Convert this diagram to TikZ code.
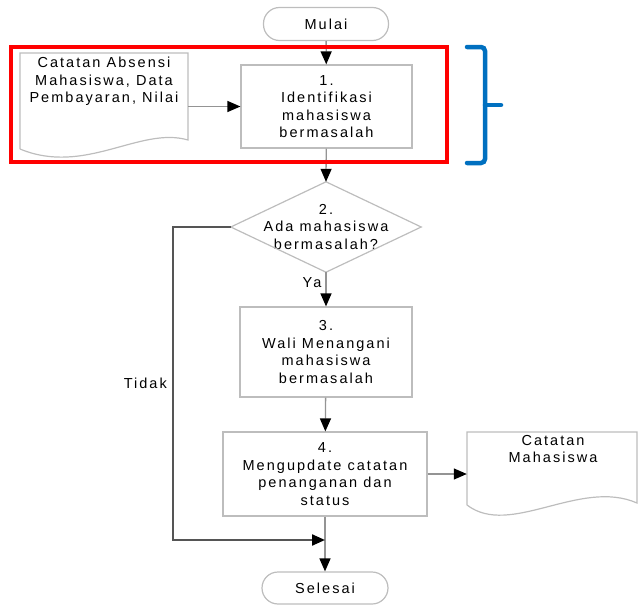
\documentclass[tikz,border=0pt]{standalone}
\usepackage{fontspec}
\setmainfont{Liberation Sans}[LetterSpace=14]
\usetikzlibrary{arrows.meta,calc}
\definecolor{edgegray}{HTML}{BDBDBD}
\definecolor{linegray}{HTML}{949494}
\definecolor{loopgray}{HTML}{555555}
\definecolor{markred}{HTML}{FF0000}
\definecolor{markblue}{HTML}{0070C0}
\begin{document}
\begin{tikzpicture}[x=1pt,y=-1pt,
  every node/.style={font=\fontsize{14.5}{17.5}\selectfont, text=black},
  proc/.style={draw=edgegray, line width=1.2pt, rectangle, align=center, inner sep=0pt},
  term/.style={draw=edgegray, line width=1.2pt, rectangle, rounded corners=16pt, align=center, inner sep=0pt},
  ghost/.style={draw=none, rectangle, align=center, inner sep=0pt},
  shape line/.style={draw=edgegray, line width=1.2pt},
  arr/.style={draw=linegray, line width=1.3pt, -{Triangle[length=13pt,width=11pt,color=black]}},
  loop/.style={draw=loopgray, line width=2.2pt, -{Triangle[length=13pt,width=11pt,color=black]}},
  lbl/.style={inner sep=1pt}
]
\useasboundingbox (0,0) rectangle (638,605);

% start / end terminals
\node[term, minimum width=125pt, minimum height=33pt] (start) at (326,24) {Mulai};
\node[term, minimum width=126pt, minimum height=32pt] (finish) at (325,588) {Selesai};

% process boxes
\node[proc, minimum width=171pt, minimum height=83pt] (s1) at (326.5,106.5)
  {1.\\Identifikasi\\mahasiswa\\bermasalah};
\node[proc, minimum width=172pt, minimum height=90pt] (s3) at (326,352)
  {3.\\Wali Menangani\\mahasiswa\\bermasalah};
\node[proc, minimum width=204pt, minimum height=84pt] (s4) at (325,474)
  {4.\\Mengupdate catatan\\penanganan dan\\status};

% decision
\node[ghost, minimum width=190pt, minimum height=90pt] (s2) at (326,227)
  {2.\\Ada mahasiswa\\bermasalah?};
\draw[shape line] (s2.north) -- (s2.east) -- (s2.south) -- (s2.west) -- cycle;

% input document
\node[ghost, minimum width=168pt, minimum height=97pt] (doc1) at (104,101) {};
\draw[shape line] (20,149) -- (20,53) -- (188,53) -- (188,140)
  .. controls (140,126) and (85,176) .. (20,149);
\node[ghost, anchor=north] (doc1txt) at (104,57)
  {Catatan Absensi\\Mahasiswa, Data\\Pembayaran, Nilai};

% output document
\node[ghost, minimum width=170pt, minimum height=75pt] (doc2) at (552,469.5) {};
\node[ghost, anchor=north] (doc2txt) at (553,435) {Catatan\\Mahasiswa};
\draw[shape line] (467,505) -- (467,432) -- (637,432) -- (637,503)
  .. controls (580,478) and (510,538) .. (467,505);

% main flow
\draw[arr] (start) -- (s1);
\draw[arr] (doc1.east |- s1.west) -- (s1.west);
\draw[arr] (s1) -- (s2.north);
\draw[arr] (s2.south) -- node[lbl, left=3pt, pos=0.3] {Ya} (s3);
\draw[arr] (s3) -- (s4);
\draw[arr] (s4.east) -- (doc2.west |- s4.east);
\draw[arr] (s4) -- (finish);

% "Tidak" branch
\draw[loop] (s2.west) -- (173,227) -- (173,540) -- (s4.south |- 0,540);
\node[lbl, anchor=east] (tidak) at (168,383) {Tidak};

% highlight frame and brace
\draw[markred, line width=4.5pt] (11,47) rectangle (447,162);
\draw[markblue, line width=4.5pt, rounded corners=4pt, line cap=round]
  (467,47) -- (485,47) -- (485,105) -- (485,163) -- (467,163);
\draw[markblue, line width=4.5pt, line cap=round] (485,105) -- (501,105);
\end{tikzpicture}
\end{document}
